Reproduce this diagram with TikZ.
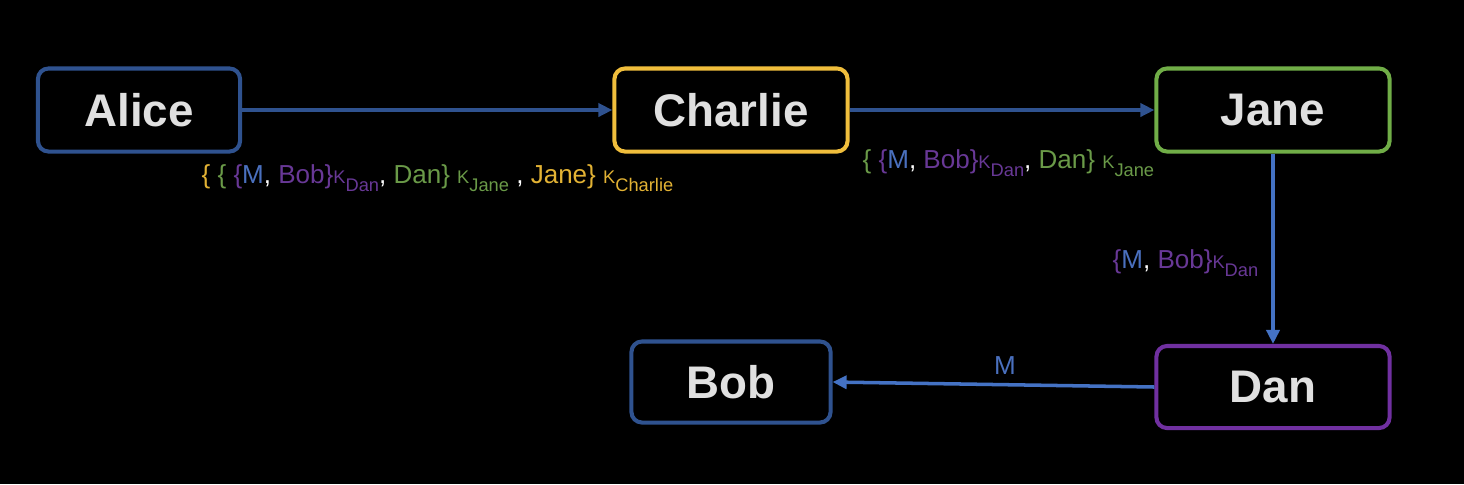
\documentclass[tikz,border=0pt]{standalone}
\usepackage{fontspec}
\setmainfont{Liberation Sans}
\usetikzlibrary{arrows.meta}

\definecolor{navy}{RGB}{47,82,143}
\definecolor{linkblue}{RGB}{68,114,196}
\definecolor{gold}{RGB}{240,190,60}
\definecolor{leaf}{RGB}{112,173,71}
\definecolor{grape}{RGB}{112,48,160}
\definecolor{msgblue}{RGB}{74,112,190}
\definecolor{msggold}{RGB}{226,178,52}
\definecolor{msggreen}{RGB}{106,154,72}
\definecolor{msgpurple}{RGB}{104,56,150}

% key with subscript owner
\newcommand{\keyof}[1]{{\fontsize{5.2}{6}\selectfont K\raisebox{-0.45em}{#1}}}

\begin{document}
\begin{tikzpicture}[
  x=0.01cm, y=-0.01cm,
  party/.style={draw, line width=1.15pt, fill=black, rounded corners=3pt, minimum height=0.83cm, align=center, font=\fontsize{13}{15}\selectfont\bfseries, text=black!12},
  connector/.style={line width=1pt, -{Triangle[length=1.4mm, width=1.3mm]}},
  msg/.style={inner sep=0pt, font=\fontsize{7.4}{8}\selectfont}
]

\fill[black] (0,0) rectangle (1464,484);

\node[party, draw=navy, minimum width=2.02cm] (alice) at (139,110) {Alice};
\node[party, draw=gold, minimum width=2.33cm] (charlie) at (731,110) {Charlie};
\node[party, draw=leaf, minimum width=2.33cm] (jane) at (1273,110) {Jane};
\node[party, draw=navy, minimum width=1.99cm, minimum height=0.81cm] (bob) at (731,382) {Bob};
\node[party, draw=grape, minimum width=2.33cm, minimum height=0.82cm] (dan) at (1273,387) {Dan};

\draw[connector, navy] (alice.east) -- (charlie.west);
\draw[connector, navy] (charlie.east) -- (jane.west);
\draw[connector, linkblue] (jane.south) -- (dan.north);
\draw[connector, linkblue] (dan.west) -- (bob.east);

\node[msg, anchor=base west] (onion3) at (201,183) {%
  \textcolor{msggold}{\{} \textcolor{msggreen}{\{} \textcolor{msgpurple}{\{}\textcolor{msgblue}{M}\textcolor{white}{,} \textcolor{msgpurple}{Bob\}\keyof{Dan}}\textcolor{white}{,} \textcolor{msggreen}{Dan\} \keyof{Jane}} \textcolor{white}{,} \textcolor{msggold}{Jane\} \keyof{Charlie}}};
\node[msg, anchor=base west] (onion2) at (862,168) {%
  \textcolor{msggreen}{\{} \textcolor{msgpurple}{\{}\textcolor{msgblue}{M}\textcolor{white}{,} \textcolor{msgpurple}{Bob\}\keyof{Dan}}\textcolor{white}{,} \textcolor{msggreen}{Dan\} \keyof{Jane}}};
\node[msg, anchor=base west] (onion1) at (1112,268) {%
  \textcolor{msgpurple}{\{}\textcolor{msgblue}{M}\textcolor{white}{,} \textcolor{msgpurple}{Bob\}\keyof{Dan}}};
\node[msg, anchor=base, text=msgblue] (plain) at (1005,374) {M};

\end{tikzpicture}
\end{document}
